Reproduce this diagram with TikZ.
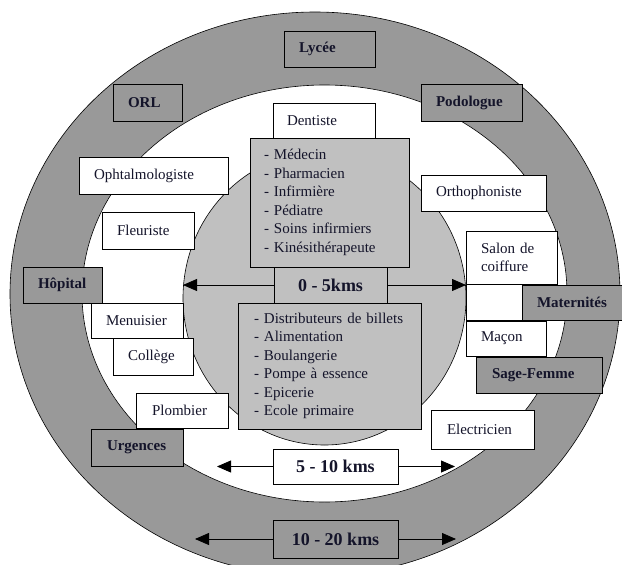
\documentclass[tikz,border=0pt]{standalone}
\usepackage{fontspec}
\setmainfont{Liberation Serif}
\usetikzlibrary{arrows.meta}
\definecolor{ringgrey}{HTML}{999999}
\definecolor{lightgrey}{HTML}{C0C0C0}
\definecolor{inkcol}{HTML}{14142A}
\begin{document}
\begin{tikzpicture}[x=1pt,y=-1pt,
  every node/.style={inner sep=0pt, outer sep=0pt},
  basebox/.style={draw=black, line width=0.8pt, anchor=north west, align=left,
    inner xsep=15pt, inner ysep=0pt, text=inkcol,
    font=\fontsize{15}{18.5}\selectfont},
  wbox/.style={basebox, fill=white},
  gbox/.style={basebox, fill=ringgrey, font=\bfseries\fontsize{15}{18.5}\selectfont},
  lbox/.style={basebox, fill=lightgrey},
  kmbox/.style={draw=black, line width=0.8pt, anchor=north west, align=center,
    text=inkcol, font=\bfseries\fontsize{18}{20}\selectfont},
  arr/.style={line width=0.8pt, draw=black, -{Triangle[length=14pt,width=12pt]}}
]
\useasboundingbox (0,0) rectangle (622,565);
\fill[white] (0,0) rectangle (622,565);

% rings
\filldraw[fill=ringgrey, draw=black, line width=0.6pt] (315,294) ellipse [x radius=305pt, y radius=282pt];
\filldraw[fill=white, draw=black, line width=0.6pt] (324.5,293.5) ellipse [x radius=242.5pt, y radius=208.5pt];
\filldraw[fill=lightgrey, draw=black, line width=0.6pt] (324.5,298) ellipse [x radius=141.5pt, y radius=147pt];

% outer ring labels
\node[gbox, text width=61pt, minimum height=36pt] (lycee) at (284,31) {Lycée};
\node[gbox, text width=39pt, minimum height=37pt] (orl) at (113,84) {ORL};
\node[gbox, text width=71pt, minimum height=37pt] (podologue) at (421,84) {Podologue};
\node[gbox, text width=49pt, minimum height=36pt] (hopital) at (23,267) {Hôpital};

% middle ring labels
\node[wbox, text width=74pt, minimum height=35pt, inner xsep=14pt] (dentiste) at (273,103) {Dentiste};
\node[wbox, text width=119pt, minimum height=37pt] (ophta) at (79,157) {Ophtalmologiste};
\node[wbox, text width=62pt, minimum height=37pt] (fleuriste) at (102,212) {Fleuriste};
\node[wbox, text width=95pt, minimum height=36pt] (ortho) at (421,175) {Orthophoniste};
\node[wbox, text width=61pt, minimum height=53pt] (salon) at (466,231) {Salon de\\coiffure};
\filldraw[fill=white, draw=black, line width=0.8pt] (466,284) rectangle (557,320);
\node[gbox, text width=70pt, minimum height=35pt] (maternites) at (522,285) {Maternités};
\node[wbox, text width=62pt, minimum height=35pt] (menuisier) at (91,303) {Menuisier};
\node[wbox, text width=50pt, minimum height=35pt] (macon) at (466,321) {Maçon};
\node[wbox, text width=50pt, minimum height=37pt] (college) at (113,338) {Collège};
\node[gbox, text width=94pt, minimum height=36pt, inner xsep=16pt] (sagefemme) at (476,357) {Sage-Femme};
\node[wbox, text width=60pt, minimum height=35pt, inner xsep=16pt] (plombier) at (136,393) {Plombier};
\node[wbox, text width=71pt, minimum height=39pt, inner xsep=16pt] (electricien) at (431,410) {Electricien};
\node[gbox, text width=60pt, minimum height=37pt, inner xsep=16pt] (urgences) at (91,429) {Urgences};

% centre
\node[kmbox, fill=lightgrey, minimum width=113pt, minimum height=36pt] (zero) at (274,267) {0 - 5kms};
\node[lbox, text width=131pt, minimum height=129pt, inner xsep=14pt] (sante) at (250,138)
  {- Médecin\\- Pharmacien\\- Infirmière\\- Pédiatre\\- Soins infirmiers\\- Kinésithérapeute};
\node[lbox, text width=151pt, minimum height=126pt, inner xsep=16pt] (commerces) at (238,303)
  {- Distributeurs de billets\\- Alimentation\\- Boulangerie\\- Pompe à essence\\- Epicerie\\- Ecole primaire};

\coordinate (zl) at (183,285);
\coordinate (zr) at (466,285);
\draw[arr] (zero.west) -- (zl);
\draw[arr] (zero.east) -- (zr);

% distance boxes
\node[kmbox, fill=white, minimum width=125pt, minimum height=35pt] (cinq) at (273,449) {5 - 10 kms};
\node[kmbox, fill=ringgrey, minimum width=125pt, minimum height=38pt] (dix) at (273,520) {10 - 20 kms};
\coordinate (cl) at (217,466.5);
\coordinate (cr) at (455,466.5);
\coordinate (dl) at (195,539);
\coordinate (dr) at (456,539);
\draw[arr] (cinq.west) -- (cl);
\draw[arr] (cinq.east) -- (cr);
\draw[arr] (dix.west) -- (dl);
\draw[arr] (dix.east) -- (dr);
\end{tikzpicture}
\end{document}
